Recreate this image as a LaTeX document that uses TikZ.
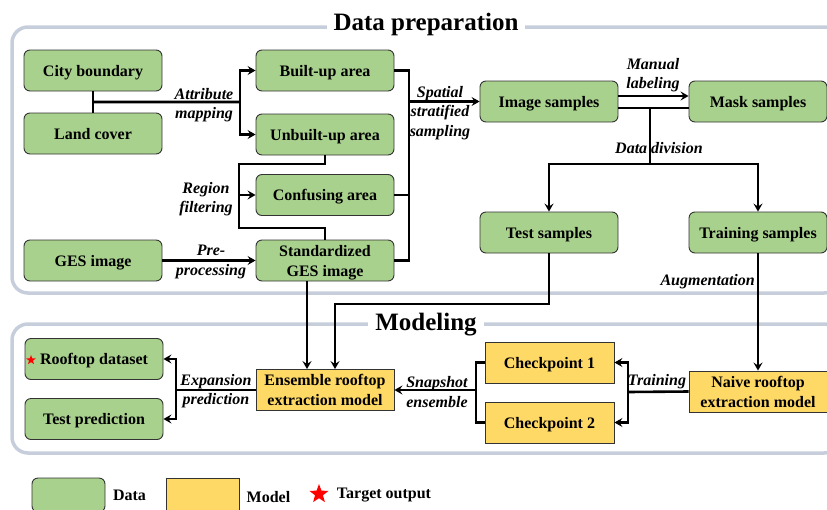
\documentclass[tikz,border=0pt]{standalone}
\usepackage{fontspec}
\setmainfont{Liberation Serif}
\usepackage{tikz}
\usetikzlibrary{calc,arrows.meta,shapes.geometric}
\definecolor{datagreen}{HTML}{A9D18E}
\definecolor{modelyellow}{HTML}{FFD966}
\definecolor{framegrey}{HTML}{C6CEDB}
\tikzset{
  data/.style={draw=black!80, line width=0.9pt, fill=datagreen, rounded corners=6pt, minimum width=138pt, minimum height=41pt, align=center, text height=12pt, text depth=1pt, font=\fontsize{16}{20}\selectfont\bfseries},
  model/.style={draw=black!80, line width=0.9pt, fill=modelyellow, minimum width=138pt, minimum height=41pt, align=center, text height=12pt, text depth=1pt, font=\fontsize{16}{20}\selectfont\bfseries},
  twoline/.style={text height=32pt, text depth=1pt},
  conn/.style={line width=2.6pt},
  arrow/.style={line width=2.6pt, -{Stealth[length=8pt,width=9pt,inset=3pt]}},
  lbl/.style={align=center, inner sep=0pt, font=\fontsize{16}{19.5}\selectfont\bfseries\itshape},
  frame/.style={draw=framegrey, line width=3.5pt, rounded corners=16pt},
  title/.style={fill=white, inner sep=7pt, font=\fontsize{25}{28}\selectfont\bfseries},
  tstar/.style={star, star points=5, star point ratio=2.4, fill=red, inner sep=0pt}
}

\begin{document}
\begin{tikzpicture}[x=1pt,y=-1pt]
\useasboundingbox (0,0) rectangle (827,509);

% frames
\draw[frame] (12,27) rectangle (840,293);
\draw[frame] (12,324) rectangle (840,453);
\node[title] (tprep) at (426,24.5) {Data preparation};
\node[title] (tmodel) at (426,324.5) {Modeling};

% data preparation
\node[data] (city) at (93,70.5) {City boundary};
\node[data] (land) at (93,133.5) {Land cover};
\node[data] (ges) at (93,260.5) {GES image};
\node[data] (built) at (325,70.5) {Built-up area};
\node[data] (unbuilt) at (325,134.5) {Unbuilt-up area};
\node[data] (confusing) at (325,195) {Confusing area};
\node[data, twoline] (std) at (325,260.5) {Standardized\\GES image};
\node[data] (imgs) at (549,101.5) {Image samples};
\node[data] (mask) at (758,101.5) {Mask samples};
\node[data] (test) at (549,232.5) {Test samples};
\node[data] (train) at (758,232.5) {Training samples};

% modeling
\node[data] (roof) at (94,359) {Rooftop dataset};
\node[tstar, minimum size=10pt] (roofstar) at (31,360) {};
\node[data] (testpred) at (94,419) {Test prediction};
\node[model, twoline] (ens) at (325,390) {Ensemble rooftop\\extraction model};
\node[model, minimum width=129pt] (ck1) at (549.5,362.5) {Checkpoint 1};
\node[model, minimum width=129pt] (ck2) at (549.5,422.5) {Checkpoint 2};
\node[model, twoline] (naive) at (758,391.5) {Naive rooftop\\extraction model};

\coordinate (attr) at (240,102);
\coordinate (rftop) at (239,164);
\coordinate (rfbot) at (239,228);
\coordinate (ss) at (409,101.5);
\coordinate (split) at (650,108);
\coordinate (dd) at (650,164);
\coordinate (tbend) at (335,304);
\coordinate (tr) at (628,392);
\coordinate (se) at (476,390);
\coordinate (ep) at (176,390);

% connectors
\draw[conn] (city) -- (land);
\draw[conn] ($(city.south)!0.5!(land.north)$) -- (attr);
\draw[arrow] (attr) |- (built);
\draw[arrow] (attr) |- (unbuilt);
\draw[conn] (unbuilt.south) |- (rftop) -- (rfbot) -| (std.north);
\draw[arrow] (rftop |- confusing) -- (confusing.west);
\draw[arrow] (ges) -- (std);
\draw[conn] (built.east) -- (built.east -| ss) -- (std.east -| ss) -- (std.east);
\draw[conn] (confusing.east) -- (confusing.east -| ss);
\draw[arrow] (ss) -- (imgs.west);
\draw[arrow] ([yshift=5.5pt]imgs.east) -- ([yshift=5.5pt]mask.west);
\draw[conn] ([yshift=-6.5pt]imgs.east) -- ([yshift=-6.5pt]mask.west);
\draw[conn] (split) -- (dd);
\draw[arrow] (dd) -| (test.north);
\draw[arrow] (dd) -| (train.north);
\draw[arrow] (test.south) |- (tbend) -- (tbend |- ens.north);
\draw[arrow] ([xshift=-18pt]std.south) -- ([xshift=-18pt]ens.north);
\draw[arrow] (train) -- (naive);
\draw[conn] (naive.west) -- (tr);
\draw[arrow] (tr) |- (ck1.east);
\draw[arrow] (tr) |- (ck2.east);
\draw[conn] (ck1.west) -| (se) |- (ck2.west);
\draw[arrow] (se) -- (ens.east);
\draw[conn] (ens.west) -- (ep);
\draw[arrow] (ep) |- (roof.east);
\draw[arrow] (ep) |- (testpred.east);

% labels
\node[lbl] (lattr) at (204,105) {Attribute\\mapping};
\node[lbl] (lregion) at (206,199) {Region\\filtering};
\node[lbl] (lpre) at (211,262) {Pre-\\processing};
\node[lbl] (lspatial) at (440,113) {Spatial\\stratified\\sampling};
\node[lbl] (lmanual) at (653,75) {Manual\\labeling};
\node[lbl] (ldiv) at (659,148) {Data division};
\node[lbl, anchor=east] (laug) at (755,282) {Augmentation};
\node[lbl] (ltrain) at (657,382) {Training};
\node[lbl] (lsnap) at (437,392) {Snapshot\\ensemble};
\node[lbl] (lexp) at (216,391) {Expansion\\prediction};

% legend
\node[data, minimum width=73pt, minimum height=34pt] (legdata) at (68.5,495) {};
\node[lbl, font=\fontsize{16}{19.5}\selectfont\bfseries] (legdatat) at (129.5,495) {Data};
\node[model, minimum width=73pt, minimum height=34pt] (legmodel) at (202.5,495) {};
\node[lbl, font=\fontsize{16}{19.5}\selectfont\bfseries] (legmodelt) at (268.5,497) {Model};
\node[tstar, minimum size=20pt] (legstar) at (319,494) {};
\node[lbl, font=\fontsize{16}{19.5}\selectfont\bfseries] (legstart) at (384,495) {Target output};
\end{tikzpicture}
\end{document}
